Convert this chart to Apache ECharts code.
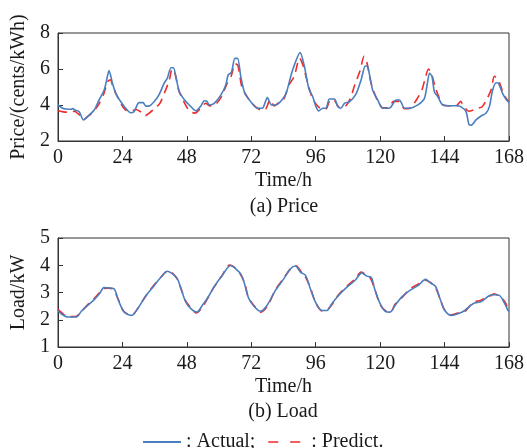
<!DOCTYPE html>
<html>
<head>
<meta charset="utf-8">
<script src="https://cdn.jsdelivr.net/npm/echarts@6/dist/echarts.min.js"></script>
<style>
html,body{margin:0;padding:0;background:#fff;}
#chart{width:527px;height:448px;}
</style>
</head>
<body>
<div id="chart"></div>
<script>
// ---- Data (hour, value) ----
const xTicks = [0, 24, 48, 72, 96, 120, 144, 168];

const priceActual = [
[0,4.0],[1.7,3.82],[3,3.78],[4.8,3.76],[5.5,3.8],[6.3,3.72],[7.9,3.63],[9.5,3.17],[11.6,3.44],[13.5,3.72],
[15.3,4.28],[17.2,4.83],[18,5.3],[19,5.91],[20.3,5.2],[21.5,4.65],[23.4,4.18],[25.2,3.82],[27.1,3.57],[28.3,3.63],
[30.2,4.13],[31.7,4.13],[32.7,3.94],[33.9,3.94],[35.8,4.18],[37.6,4.56],[39.5,5.2],[40.7,5.48],[42.1,6.07],[43,6.07],
[43.9,5.57],[45.2,4.74],[47,4.31],[48.9,4.0],[51.4,3.67],[53.2,3.94],[54.5,4.24],[55.4,4.22],[56.4,4.0],[58.2,4.09],
[60.7,4.56],[62.5,5.11],[63.4,5.67],[64.6,5.81],[65.9,6.59],[66.9,6.59],[68.1,5.57],[69.6,4.65],[71.8,4.18],[74.3,3.82],
[76.1,3.82],[78,4.41],[79.5,4.0],[81.1,4.0],[82.5,4.13],[83.9,4.37],[85,4.65],[87.4,5.94],[90.2,6.91],[91.8,6.13],
[93.4,4.93],[94.9,4.46],[96.1,3.91],[97.1,3.67],[98.6,3.82],[99.8,3.82],[101.1,4.33],[103,4.33],[104.2,3.91],[105.4,3.82],
[106.7,4.09],[108.5,4.18],[111,4.61],[112.9,5.39],[114.5,6.17],[115.4,6.13],[117.2,4.83],[119.1,4.28],[120.9,3.82],[123.4,3.82],
[126,4.28],[127.2,4.28],[129.1,3.82],[131,3.82],[132.8,3.91],[134.6,4.06],[136.5,4.37],[137.5,5.11],[138.4,5.76],[139.3,5.6],
[140.2,4.74],[141.5,4.46],[143.3,4.0],[145.8,3.96],[148.3,3.96],[150,3.91],[152,3.63],[153.2,2.89],[154,2.88],[155.7,3.17],
[157.6,3.39],[159.4,3.54],[160.7,3.91],[161.9,4.83],[163.2,5.24],[164,5.22],[165.6,4.65],[167.1,4.28],[168,4.15]
];

const pricePredict = [
[0,3.7],[2,3.62],[4,3.6],[6,3.65],[8,3.45],[9.5,3.2],[11,3.35],[13,3.6],[15,4.0],[17,4.6],
[18.5,5.3],[19.5,5.4],[20.5,5.0],[22,4.5],[23.5,4.05],[25,3.75],[27,3.65],[29,3.75],[31,3.6],[32.5,3.4],
[34,3.55],[36,3.8],[38,4.1],[40,4.8],[41.5,5.4],[42.5,6.0],[43.5,5.8],[45,4.8],[46.5,4.3],[49,3.65],
[51,3.55],[53,3.8],[55,4.1],[56.5,3.95],[58.5,4.0],[61,4.5],[63,5.2],[64.5,5.6],[66,6.3],[67,6.2],
[68.5,5.0],[70.5,4.45],[72,4.15],[74,3.85],[76,3.7],[77.5,3.8],[79,4.3],[80.5,3.95],[82,4.1],[84,4.3],
[86,5.1],[88,5.6],[90,6.6],[91.5,6.1],[93,5.2],[95,4.3],[97,3.9],[98.5,3.75],[100,3.8],[101.5,4.3],
[103,4.25],[104.5,3.9],[106,3.85],[107.5,4.0],[109,4.4],[110.5,5.1],[112.5,5.9],[114,6.7],[115,6.4],[116.5,5.3],
[118,4.6],[119.5,4.1],[121,3.85],[123,3.85],[125,4.2],[127,4.2],[129,3.8],[130.5,3.8],[132,3.95],[134,4.4],
[135.5,4.8],[137,5.6],[138,6.0],[139,5.8],[140.5,5.0],[142,4.4],[143.5,4.0],[146,3.95],[148,3.9],[150,4.2],
[151,3.95],[153,3.65],[156,3.8],[158,3.9],[160,4.4],[161.5,4.9],[162.5,5.6],[164,5.4],[165.5,4.8],[167,4.35],[168,4.2]
];

const loadActual = [
[0,2.34],[1.2,2.22],[3.7,2.10],[6.8,2.10],[8.7,2.31],[11.1,2.53],[13.6,2.75],[15.5,2.96],[17.1,3.18],[18.5,3.17],
[20.8,3.14],[22.5,2.71],[24.7,2.28],[27.5,2.16],[29.7,2.41],[32.8,2.89],[35.9,3.26],[38.4,3.57],[40.8,3.78],[42.7,3.68],
[44.5,3.5],[45.8,3.14],[47.6,2.65],[49.5,2.41],[51.7,2.28],[53.8,2.53],[56.3,2.89],[58.1,3.2],[61.2,3.63],[64.3,3.99],
[66.2,3.87],[68,3.69],[69.3,3.38],[71.1,2.77],[73.6,2.43],[75.5,2.31],[77.9,2.53],[81,3.08],[84.1,3.5],[86.6,3.87],
[88.5,3.97],[90.3,3.75],[92.2,3.63],[94,3.14],[95.9,2.65],[98.3,2.34],[100.2,2.34],[102,2.59],[104.5,2.89],[107.6,3.2],
[110.7,3.45],[113.2,3.72],[115,3.6],[116.7,3.55],[118.1,3.08],[120,2.59],[121.9,2.31],[123.7,2.28],[125.6,2.53],[128,2.83],
[131.1,3.08],[134.2,3.26],[136.9,3.48],[138.6,3.36],[140.6,3.23],[142.3,2.77],[144.1,2.34],[146.6,2.16],[149,2.22],[151.5,2.34],
[154.6,2.59],[157.7,2.67],[160.8,2.89],[162.7,2.92],[164.5,2.89],[166.4,2.59],[167.6,2.34],[168,2.3]
];

const loadPredict = [
[0,2.38],[1.5,2.25],[3.5,2.12],[6.5,2.12],[8.5,2.28],[11,2.55],[13.5,2.78],[15.5,3.0],[17,3.15],[18.5,3.16],
[20.5,3.12],[22.5,2.74],[24.5,2.3],[27.5,2.18],[29.5,2.38],[33,2.92],[36,3.3],[38.5,3.58],[41,3.8],[42.5,3.72],
[44.5,3.48],[46,3.1],[47.5,2.7],[49.5,2.44],[51.5,2.25],[54,2.5],[56.5,2.92],[58,3.18],[61,3.6],[64,4.01],
[66,3.9],[68,3.66],[69.5,3.35],[71,2.8],[73.5,2.46],[75.5,2.28],[78,2.5],[81,3.1],[84,3.52],[86.5,3.85],
[88.5,3.99],[90.5,3.78],[92,3.6],[94,3.18],[96,2.62],[98.5,2.32],[100.5,2.38],[102,2.55],[104.5,2.92],[107.5,3.22],
[110.5,3.48],[113,3.75],[115,3.62],[116.5,3.5],[118,3.12],[120,2.55],[122,2.33],[124,2.3],[125.5,2.56],[128,2.8],
[131,3.12],[134,3.3],[137,3.45],[138.5,3.38],[140.5,3.2],[142.5,2.72],[144,2.36],[146.5,2.18],[149,2.25],[151.5,2.3],
[154.5,2.62],[157.5,2.72],[160.5,2.85],[162.5,2.95],[164.5,2.85],[166.5,2.65],[168,2.28]
];

const priceTicks = [2, 4, 6, 8];
const loadTicks = [1, 2, 3, 4, 5];

// ---- Styling ----
const FONT = '"Liberation Serif", "Times New Roman", serif';
const TXT = '#1a1a1a';
const AX = '#333';
const BLUE = '#4a7ebf';
const RED = '#ee2a2a';

function xAxisCfg(gridIndex) {
  return {
    type: 'value', gridIndex, min: xTicks[0], max: xTicks[xTicks.length - 1], interval: 24,
    name: 'Time/h', nameLocation: 'middle', nameGap: 30,
    nameTextStyle: { fontFamily: FONT, fontSize: 20, color: TXT },
    axisLine: { show: true, onZero: false, lineStyle: { color: AX, width: 1 } },
    axisTick: { show: true, inside: true, length: 5, lineStyle: { color: AX } },
    axisLabel: { fontFamily: FONT, fontSize: 20, color: TXT, margin: 7 },
    splitLine: { show: false }
  };
}
function yAxisCfg(gridIndex, ticks, name) {
  return {
    type: 'value', gridIndex, min: ticks[0], max: ticks[ticks.length - 1], interval: ticks[1] - ticks[0],
    name, nameLocation: 'middle', nameGap: 26,
    nameTextStyle: { fontFamily: FONT, fontSize: 20, color: TXT },
    axisLine: { show: true, lineStyle: { color: AX, width: 1 } },
    axisTick: { show: true, inside: true, length: 5, lineStyle: { color: AX } },
    axisLabel: { fontFamily: FONT, fontSize: 20, color: TXT, margin: 8 },
    splitLine: { show: false }
  };
}

const chart = echarts.init(document.getElementById('chart'), null, { renderer: 'canvas' });
chart.setOption({
  animation: false,
  backgroundColor: '#fff',
  grid: [
    { left: 58, top: 33, width: 452, height: 108, show: true, borderColor: AX, borderWidth: 1, backgroundColor: 'transparent' },
    { left: 58, top: 238, width: 453, height: 109, show: true, borderColor: AX, borderWidth: 1, backgroundColor: 'transparent' }
  ],
  xAxis: [xAxisCfg(0), xAxisCfg(1)],
  yAxis: [yAxisCfg(0, priceTicks, 'Price/(cents/kWh)'), yAxisCfg(1, loadTicks, 'Load/kW')],
  legend: {
    show: true,
    left: 137, top: 427, itemWidth: 38, itemHeight: 14, itemGap: 12,
    textStyle: { fontFamily: FONT, fontSize: 20, color: TXT },
    itemStyle: { opacity: 0, color: 'rgba(0,0,0,0)', borderWidth: 0 },
    formatter: function (n) { return n === 'Actual' ? ': Actual;' : ': Predict.'; },
    data: [
      { name: 'Actual', itemStyle: { opacity: 0, color: 'rgba(0,0,0,0)', borderWidth: 0 } },
      { name: 'Predict.', itemStyle: { opacity: 0, color: 'rgba(0,0,0,0)', borderWidth: 0 },
        lineStyle: { type: [10, 12], color: RED, width: 1.6 } }
    ]
  },
  graphic: [
    { type: 'text', x: 284, y: 197, style: { text: '(a) Price', font: '20px ' + FONT, fill: TXT, textAlign: 'center', textVerticalAlign: 'top' } },
    { type: 'text', x: 283, y: 402, style: { text: '(b) Load', font: '20px ' + FONT, fill: TXT, textAlign: 'center', textVerticalAlign: 'top' } }
  ],
  series: [
    { name: 'Predict.', type: 'line', xAxisIndex: 0, yAxisIndex: 0, data: pricePredict, symbol: 'none', smooth: 0.25,
      lineStyle: { color: RED, width: 1.6, type: [9, 6] }, itemStyle: { color: RED } },
    { name: 'Actual', type: 'line', xAxisIndex: 0, yAxisIndex: 0, data: priceActual, symbol: 'none', smooth: 0.25,
      lineStyle: { color: BLUE, width: 1.6 }, itemStyle: { color: BLUE } },
    { name: 'Predict.', type: 'line', xAxisIndex: 1, yAxisIndex: 1, data: loadPredict, symbol: 'none', smooth: 0.3,
      lineStyle: { color: RED, width: 1.6, type: [9, 6] }, itemStyle: { color: RED } },
    { name: 'Actual', type: 'line', xAxisIndex: 1, yAxisIndex: 1, data: loadActual, symbol: 'none', smooth: 0.3,
      lineStyle: { color: BLUE, width: 1.6 }, itemStyle: { color: BLUE } }
  ]
});
</script>
</body>
</html>
